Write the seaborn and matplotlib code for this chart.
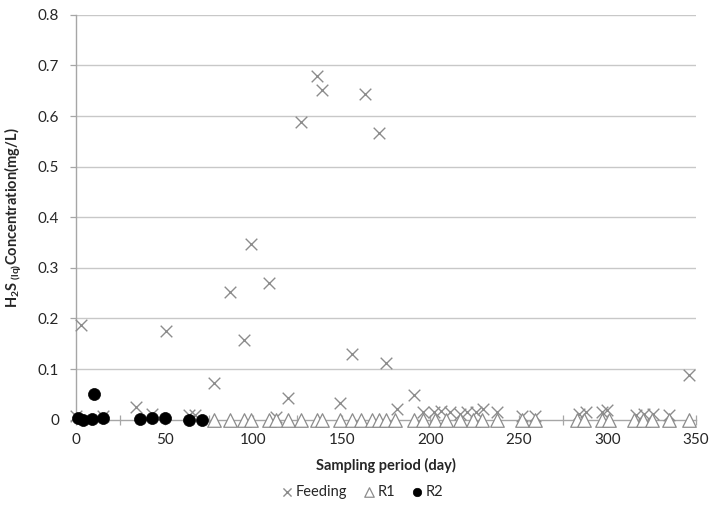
import matplotlib
matplotlib.use("Agg")
import matplotlib.pyplot as plt
import numpy as np
import pandas as pd
import seaborn as sns

# Sampling days and dissolved H2S concentrations (mg/L)
feeding_day = [0, 3, 15, 34, 43, 51, 64, 67, 78, 87, 95, 99, 109, 113, 120, 127,
               136, 139, 149, 156, 163, 171, 175, 181, 191, 196, 202, 206, 211,
               217, 221, 226, 230, 238, 252, 259, 284, 288, 297, 300, 316, 321,
               326, 335, 346]
feeding_conc = [0.008, 0.188, 0.008, 0.024, 0.012, 0.175, 0.010, 0.010, 0.073,
                0.252, 0.158, 0.348, 0.270, 0.005, 0.042, 0.589, 0.680, 0.652,
                0.033, 0.130, 0.644, 0.566, 0.111, 0.022, 0.048, 0.015, 0.015,
                0.018, 0.015, 0.012, 0.015, 0.015, 0.022, 0.015, 0.008, 0.008,
                0.012, 0.016, 0.016, 0.019, 0.009, 0.012, 0.012, 0.009, 0.088]

r1_day = [78, 87, 95, 99, 109, 113, 120, 127, 136, 139, 149, 156, 161, 167, 171,
          175, 180, 191, 196, 203, 209, 217, 224, 229, 238, 252, 259, 283, 287,
          297, 301, 315, 320, 325, 335, 346]
r1_conc = [0.0] * len(r1_day)

r2_day = [1, 4, 9, 10, 15, 36, 43, 50, 64, 71]
r2_conc = [0.003, 0.0, 0.002, 0.050, 0.003, 0.002, 0.004, 0.004, 0.0, 0.0]

x_ticks = [0, 50, 100, 150, 200, 250, 300, 350]
y_ticks = [0, 0.1, 0.2, 0.3, 0.4, 0.5, 0.6, 0.7, 0.8]
y_tick_labels = ["0", "0.1", "0.2", "0.3", "0.4", "0.5", "0.6", "0.7", "0.8"]

sns.set_theme(style="white")
plt.rcParams["font.family"] = ["Lato", "DejaVu Sans"]
plt.rcParams["mathtext.fontset"] = "custom"
plt.rcParams["mathtext.rm"] = "Lato:bold"
plt.rcParams["mathtext.bf"] = "Lato:bold"
plt.rcParams["mathtext.default"] = "bf"

fig = plt.figure(figsize=(7.10, 5.13), dpi=100)
ax = fig.add_axes([0.107, 0.182, 0.873, 0.789])

text_col = "#262626"
axis_col = "#a6a6a6"
grid_col = "#c8c8c8"

feed = pd.DataFrame({"day": feeding_day, "conc": feeding_conc})
r1 = pd.DataFrame({"day": r1_day, "conc": r1_conc})
r2 = pd.DataFrame({"day": r2_day, "conc": r2_conc})

sns.scatterplot(data=feed, x="day", y="conc", ax=ax, marker="x", s=70,
                color="#8c8c8c", linewidth=1.0, clip_on=False, zorder=3,
                label="Feeding")
sns.scatterplot(data=r1, x="day", y="conc", ax=ax, marker="^", s=95,
                facecolor="white", edgecolor="#8c8c8c", linewidth=0.9,
                clip_on=False, zorder=4, label="R1")
sns.scatterplot(data=r2, x="day", y="conc", ax=ax, marker="o", s=75,
                color="black", edgecolor="black", linewidth=0.5,
                clip_on=False, zorder=5, label="R2")

ax.set_xlim(0, 350)
ax.set_ylim(0, 0.8)
ax.set_xticks(x_ticks)
ax.set_xticks(np.arange(0, 351, 25), minor=True)
ax.set_yticks(y_ticks)
ax.set_yticklabels(y_tick_labels)

for y in y_ticks[1:]:
    ax.axhline(y, color=grid_col, linewidth=1.0, zorder=0)

for side in ["top", "right"]:
    ax.spines[side].set_visible(False)
for side in ["left", "bottom"]:
    ax.spines[side].set_color(axis_col)
    ax.spines[side].set_linewidth(1.0)

ax.tick_params(axis="y", which="major", direction="out", length=4, width=0.9,
               color=axis_col, pad=8, labelsize=11, labelcolor=text_col, left=True)
ax.tick_params(axis="x", which="both", direction="inout", length=7, width=0.9,
               color=axis_col, bottom=True)
ax.tick_params(axis="x", which="major", pad=6, labelsize=11, labelcolor=text_col)

ax.set_xlabel("Sampling period (day)", fontsize=10.5, fontweight="bold",
              color=text_col, labelpad=8)
ax.set_ylabel(r"H$_2$S$_{\;(lq)}$Concentration(mg/L)", fontsize=10.5,
              fontweight="bold", color=text_col, labelpad=10)

handles, labels = ax.get_legend_handles_labels()
ax.get_legend().remove()
fig.legend(handles, labels, loc="center", bbox_to_anchor=(0.51, 0.041),
           ncol=3, frameon=False, fontsize=10.5, handletextpad=0.2,
           handlelength=0.8, columnspacing=1.1, labelcolor=text_col,
           markerscale=0.7, borderpad=0.0)

fig.savefig("out.png", dpi=100)
